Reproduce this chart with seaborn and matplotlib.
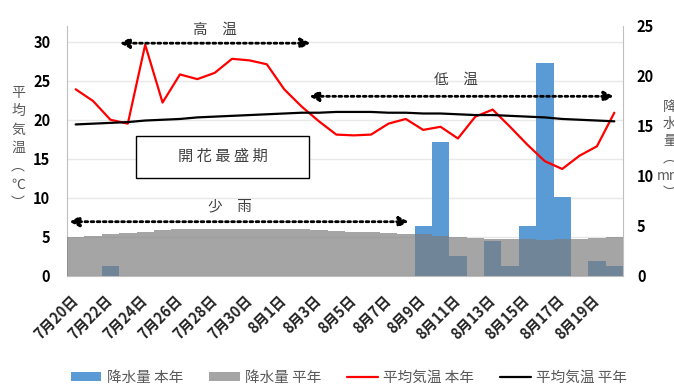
import numpy as np
import pandas as pd
import matplotlib
matplotlib.use("Agg")
import matplotlib.pyplot as plt
import seaborn as sns
from matplotlib.patches import Patch, Rectangle
from matplotlib.lines import Line2D

# ---- data -------------------------------------------------------------
days = [f"7月{d}日" for d in range(20, 32)] + [f"8月{d}日" for d in range(1, 21)]

rain_this_year = [0, 0, 1.0, 0, 0, 0, 0, 0, 0, 0, 0, 0, 0, 0, 0, 0,
                  0, 0, 0, 0, 5.0, 13.4, 2.0, 0, 3.5, 1.0, 5.0, 21.3,
                  7.9, 0, 1.5, 1.0]
rain_normal = [3.9, 4.05, 4.2, 4.3, 4.45, 4.6, 4.7, 4.7, 4.75, 4.75, 4.75,
               4.75, 4.75, 4.7, 4.65, 4.55, 4.45, 4.45, 4.35, 4.25, 4.2,
               4.05, 3.95, 3.85, 3.75, 3.75, 3.75, 3.65, 3.7, 3.75, 3.8, 3.95]
temp_this_year = [23.9, 22.4, 20.0, 19.5, 29.6, 22.2, 25.8, 25.2, 26.0, 27.8,
                  27.6, 27.1, 23.9, 21.7, 19.8, 18.1, 18.0, 18.1, 19.5, 20.1,
                  18.7, 19.1, 17.6, 20.4, 21.3, 19.1, 16.8, 14.7, 13.7, 15.4,
                  16.6, 20.9]
temp_normal = [19.4, 19.5, 19.6, 19.7, 19.9, 20.0, 20.1, 20.3, 20.4, 20.5,
               20.6, 20.7, 20.8, 20.9, 20.9, 21.0, 21.0, 21.0, 20.9, 20.9,
               20.8, 20.8, 20.7, 20.6, 20.6, 20.5, 20.4, 20.3, 20.1, 20.0,
               19.9, 19.8]

temp_ticks = [0, 5, 10, 15, 20, 25, 30]
rain_ticks = [0, 5, 10, 15, 20, 25]

df = pd.DataFrame({
    "pos": np.arange(len(days)),
    "day": days,
    "rain": rain_this_year,
    "rain_norm": rain_normal,
    "temp": temp_this_year,
    "temp_norm": temp_normal,
})

# ---- style ------------------------------------------------------------
sns.set_style("white")
plt.rcParams["font.family"] = ["Noto Sans CJK JP", "DejaVu Sans"]

BLUE = "#5B9BD5"
GRAY = "#7B7B7B"
GRAY_ALPHA = 0.68
AXIS_C = "#BFBFBF"
TXT = "#404040"

fig = plt.figure(figsize=(6.74, 3.85), dpi=100)
W, H = 674, 385
ax = fig.add_axes([67 / W, 1 - 276 / H, 556 / W, 250 / H])   # temperature (left)
ax_bar = ax.twinx()                                          # precipitation (right)
ax_line = ax.twinx()                                         # temperature lines on top

# bars: this year's rain, then normal rain translucent on top
sns.barplot(data=df, x="pos", y="rain", color=BLUE, saturation=1, width=1,
            errorbar=None, linewidth=0, ax=ax_bar)
sns.barplot(data=df, x="pos", y="rain_norm", color=GRAY, alpha=GRAY_ALPHA,
            saturation=1, width=1, errorbar=None, linewidth=0, ax=ax_bar)

# temperature lines
sns.lineplot(data=df, x="pos", y="temp", color="#FF0000", lw=1.6,
             ax=ax_line, legend=False)
sns.lineplot(data=df, x="pos", y="temp_norm", color="black", lw=1.6,
             ax=ax_line, legend=False)

for a in (ax, ax_bar, ax_line):
    a.set_xlabel("")
    a.set_ylabel("")
    for s in a.spines.values():
        s.set_visible(False)

ax.set_ylim(0, 32)
ax_line.set_ylim(0, 32)
ax_bar.set_ylim(0, 25)
ax.set_xlim(-0.5, len(days) - 0.5)

# grid on the background axes
ax.set_yticks(temp_ticks)
ax.yaxis.grid(True, color="#E8E8E8", lw=1)
ax.xaxis.grid(False)
ax.set_axisbelow(True)

ax.spines["left"].set_visible(True)
ax.spines["left"].set_color(AXIS_C)
ax.spines["bottom"].set_visible(True)
ax.spines["bottom"].set_color(AXIS_C)
ax_bar.spines["right"].set_visible(True)
ax_bar.spines["right"].set_color(AXIS_C)

ax.tick_params(axis="y", length=0, pad=12, labelsize=10.5, labelcolor="black")
ax_bar.set_yticks(rain_ticks)
ax_bar.tick_params(axis="y", length=0, pad=10, labelsize=10.5, labelcolor="black")
ax_line.yaxis.set_visible(False)
for lab in ax.get_yticklabels() + ax_bar.get_yticklabels():
    lab.set_fontweight("bold")

# x axis: labels every second day, tick marks at category boundaries
ax.set_xticks(df["pos"][::2])
ax.set_xticklabels(days[::2], rotation=45, ha="right", va="center",
                   rotation_mode="anchor", fontweight="bold", fontsize=10.5)
ax.set_xticks(np.arange(-0.5, len(days), 2), minor=True)
ax.tick_params(axis="x", which="major", length=0, pad=16)
ax.tick_params(axis="x", which="minor", length=4, color=AXIS_C, width=1)
ax.set_xlim(-0.5, len(days) - 0.5)

# ---- annotations ------------------------------------------------------
arrow_kw = dict(arrowstyle="<|-|>,head_length=0.55,head_width=0.3",
                color="black", lw=2, linestyle=(0, (1, 1.2)),
                shrinkA=0, shrinkB=0)
ax_line.annotate("", xy=(2.55, 29.8), xytext=(13.5, 29.8), arrowprops=arrow_kw)
ax_line.text(8.0, 31.5, "高　温", ha="center", va="center", fontsize=10.5, color=TXT)

ax_line.annotate("", xy=(13.45, 23.0), xytext=(30.95, 23.0), arrowprops=arrow_kw)
ax_line.text(21.9, 25.1, "低　温", ha="center", va="center", fontsize=10.5, color=TXT)

ax_line.annotate("", xy=(-0.35, 6.95), xytext=(19.15, 6.95), arrowprops=arrow_kw)
ax_line.text(8.9, 8.85, "少　雨", ha="center", va="center", fontsize=10.5, color=TXT)

ax_line.add_patch(Rectangle((3.47, 12.56), 13.43 - 3.47, 17.95 - 12.56,
                            fill=True, facecolor="white", edgecolor="black", lw=1))
ax_line.text(8.45, 15.26, "開 花 最 盛 期", ha="center", va="center",
             fontsize=11, color=TXT)

# vertical axis titles
fig.text(18 / W, 1 - 148 / H, "平\n均\n気\n温\n︵\n℃\n︶", ha="center", va="center",
         fontsize=10, color="#595959", linespacing=1.4)
fig.text(670 / W, 1 - 150 / H, "降\n水\n量\n︵\nmm\n︶", ha="center", va="center",
         fontsize=10, color="#595959", linespacing=1.3)

# ---- legend -----------------------------------------------------------
handles = [
    Patch(facecolor=BLUE, edgecolor="none"),
    Patch(facecolor=GRAY, alpha=GRAY_ALPHA, edgecolor="none"),
    Line2D([], [], color="#FF0000", lw=1.6),
    Line2D([], [], color="black", lw=1.6),
]
labels = ["降水量 本年", "降水量 平年", "平均気温 本年", "平均気温 平年"]
leg = fig.legend(handles, labels, loc="center", bbox_to_anchor=(349 / W, 1 - 378 / H),
                 ncol=4, frameon=False, fontsize=10.5, handlelength=2.1,
                 handleheight=0.6, handletextpad=0.35, columnspacing=1.8)
for t in leg.get_texts():
    t.set_color("#595959")

fig.savefig("out.png", dpi=100)
